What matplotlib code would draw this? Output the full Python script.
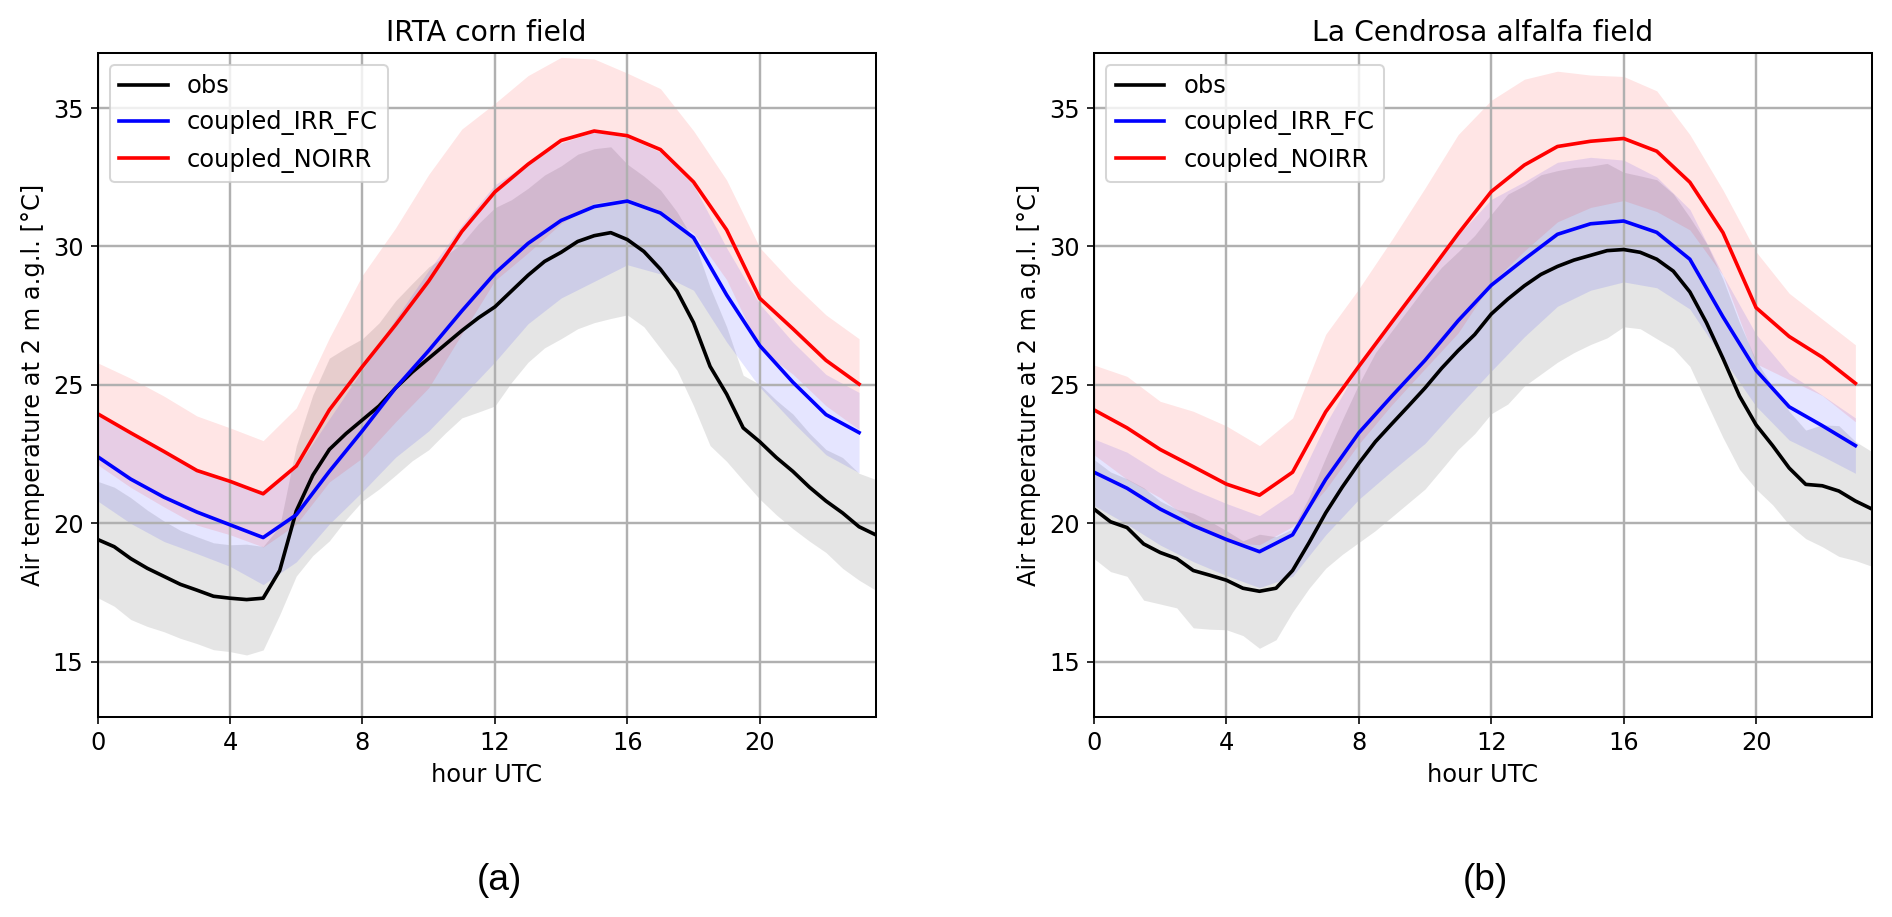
import numpy as np
import matplotlib
matplotlib.use("Agg")
import matplotlib.pyplot as plt

# half-hourly observations, hourly model output
obs_hours = np.arange(0, 24, 0.5)
mod_hours = np.arange(0, 24)

# IRTA corn field
irta_obs = [19.42, 19.16, 18.73, 18.38, 18.09, 17.8, 17.59, 17.37, 17.3, 17.25,
            17.3, 18.3, 20.45, 21.74, 22.67, 23.24, 23.74, 24.24, 24.89, 25.46,
            25.96, 26.46, 26.96, 27.42, 27.82, 28.39, 28.96, 29.46, 29.79, 30.18,
            30.39, 30.5, 30.25, 29.82, 29.18, 28.39, 27.25, 25.67, 24.67, 23.45,
            22.95, 22.38, 21.88, 21.31, 20.81, 20.38, 19.88, 19.59]
irta_obs_std = [2.1, 2.15, 2.2, 2.1, 2.0, 1.95, 1.93, 1.93, 1.93, 2.0,
                1.87, 1.6, 2.35, 2.9, 3.3, 3.1, 2.93, 3.0, 3.15, 3.2,
                3.3, 3.2, 3.15, 3.4, 3.58, 3.3, 3.14, 3.12, 3.12, 3.15,
                3.14, 3.1, 2.72, 2.72, 2.86, 2.86, 3.0, 2.86, 2.43, 1.9,
                2.07, 2.07, 2.07, 1.95, 1.86, 2.0, 1.93, 2.0]
irta_irr = [22.41, 21.6, 20.95, 20.41, 19.95, 19.49, 20.31, 21.88, 23.35, 24.89,
            26.24, 27.67, 29.03, 30.11, 30.94, 31.44, 31.64, 31.21, 30.32, 28.25,
            26.42, 25.1, 23.93, 23.28]
irta_irr_std = [1.6, 1.6, 1.6, 1.5, 1.5, 1.7, 1.7, 1.9, 2.2, 2.5,
                2.9, 3.1, 3.2, 2.9, 2.8, 2.7, 2.3, 2.2, 1.9, 1.7,
                1.5, 1.45, 1.45, 1.45]
irta_noirr = [23.96, 23.27, 22.6, 21.91, 21.52, 21.07, 22.07, 24.1, 25.67, 27.17,
              28.75, 30.54, 31.97, 32.97, 33.83, 34.17, 34.0, 33.5, 32.33, 30.6,
              28.13, 27.03, 25.89, 25.03]
irta_noirr_std = [1.84, 1.97, 2.0, 1.97, 1.93, 1.92, 2.1, 2.6, 3.3, 3.5,
                  3.85, 3.7, 3.2, 3.2, 3.0, 2.6, 2.26, 2.2, 1.85, 1.8,
                  1.83, 1.64, 1.64, 1.64]

# La Cendrosa alfalfa field
lc_obs = [20.52, 20.06, 19.85, 19.26, 18.95, 18.73, 18.3, 18.13, 17.95, 17.66,
          17.55, 17.66, 18.3, 19.31, 20.38, 21.31, 22.17, 22.95, 23.6, 24.24,
          24.89, 25.6, 26.24, 26.82, 27.56, 28.1, 28.58, 28.99, 29.28, 29.51,
          29.68, 29.85, 29.89, 29.79, 29.54, 29.11, 28.36, 27.25, 25.96, 24.6,
          23.56, 22.81, 22.0, 21.41, 21.36, 21.17, 20.81, 20.52]
lc_obs_std = [1.79, 1.8, 1.76, 2.03, 1.86, 1.78, 2.07, 1.95, 1.79, 1.71,
              2.06, 1.86, 1.5, 1.65, 2.0, 2.43, 2.86, 3.21, 3.36, 3.5,
              3.65, 3.65, 3.57, 3.58, 3.6, 3.79, 3.62, 3.6, 3.46, 3.34,
              3.22, 3.15, 2.79, 2.76, 2.87, 2.79, 2.69, 2.87, 2.86, 2.65,
              2.32, 2.14, 2.05, 1.96, 2.2, 2.36, 2.15, 2.07]
lc_irr = [21.85, 21.27, 20.52, 19.92, 19.42, 18.98, 19.59, 21.59, 23.27, 24.6,
          25.89, 27.32, 28.6, 29.54, 30.44, 30.82, 30.92, 30.51, 29.54, 27.46,
          25.53, 24.21, 23.53, 22.81]
lc_irr_std = [1.2, 1.3, 1.3, 1.3, 1.3, 1.3, 1.5, 2.0, 2.4, 2.7,
              3.0, 3.1, 3.1, 2.8, 2.6, 2.4, 2.2, 2.0, 1.8, 1.5,
              1.3, 1.2, 1.1, 1.0]
lc_noirr = [24.1, 23.45, 22.67, 22.05, 21.42, 21.02, 21.85, 24.03, 25.67, 27.27,
            28.85, 30.46, 31.98, 32.94, 33.61, 33.8, 33.9, 33.44, 32.32, 30.5,
            27.79, 26.75, 26.0, 25.06]
lc_noirr_std = [1.62, 1.86, 1.74, 2.0, 2.1, 1.79, 1.96, 2.8, 2.8, 2.98,
                3.26, 3.58, 3.3, 3.1, 2.72, 2.39, 2.24, 2.18, 1.72, 1.54,
                2.02, 1.56, 1.38, 1.39]

titles = ["IRTA corn field", "La Cendrosa alfalfa field"]
captions = ["(a)", "(b)"]

plt.rcParams["font.size"] = 12
plt.rcParams["lines.linewidth"] = 1.8
plt.rcParams["axes.linewidth"] = 1.0


def draw_panel(ax, obs, obs_std, irr, irr_std, noirr, noirr_std, title):
    obs, obs_std = np.array(obs), np.array(obs_std)
    irr, irr_std = np.array(irr), np.array(irr_std)
    noirr, noirr_std = np.array(noirr), np.array(noirr_std)

    ax.plot(obs_hours, obs, color="black", label="obs")
    ax.fill_between(obs_hours, obs - obs_std, obs + obs_std,
                    color="grey", alpha=0.2, linewidth=0)
    ax.plot(mod_hours, irr, color="blue", label="coupled_IRR_FC")
    ax.fill_between(mod_hours, irr - irr_std, irr + irr_std,
                    color="blue", alpha=0.1, linewidth=0)
    ax.plot(mod_hours, noirr, color="red", label="coupled_NOIRR")
    ax.fill_between(mod_hours, noirr - noirr_std, noirr + noirr_std,
                    color="red", alpha=0.1, linewidth=0)

    ax.set_xlim(0, 23.5)
    ax.set_ylim(13, 37)
    ax.set_xticks(np.arange(0, 24, 4))
    ax.set_yticks(np.arange(15, 36, 5))
    ax.grid(True, linewidth=1.2)
    ax.set_title(title, fontsize=14)
    ax.set_xlabel("hour UTC")
    ax.set_ylabel("Air temperature at 2 m a.g.l. [°C]")
    ax.legend(loc="upper left")


fig = plt.figure(figsize=(1892 / 145, 917 / 145), dpi=145)
ax1 = fig.add_axes([0.0516, 0.2178, 0.4112, 0.7248])
ax2 = fig.add_axes([0.5782, 0.2178, 0.4112, 0.7248])

draw_panel(ax1, irta_obs, irta_obs_std, irta_irr, irta_irr_std,
           irta_noirr, irta_noirr_std, titles[0])
draw_panel(ax2, lc_obs, lc_obs_std, lc_irr, lc_irr_std,
           lc_noirr, lc_noirr_std, titles[1])

fig.text(0.264, 0.040, captions[0], ha="center", va="center",
         fontsize=18.5, family="Liberation Sans")
fig.text(0.785, 0.040, captions[1], ha="center", va="center",
         fontsize=18.5, family="Liberation Sans")

fig.savefig("out.png", dpi=145)
